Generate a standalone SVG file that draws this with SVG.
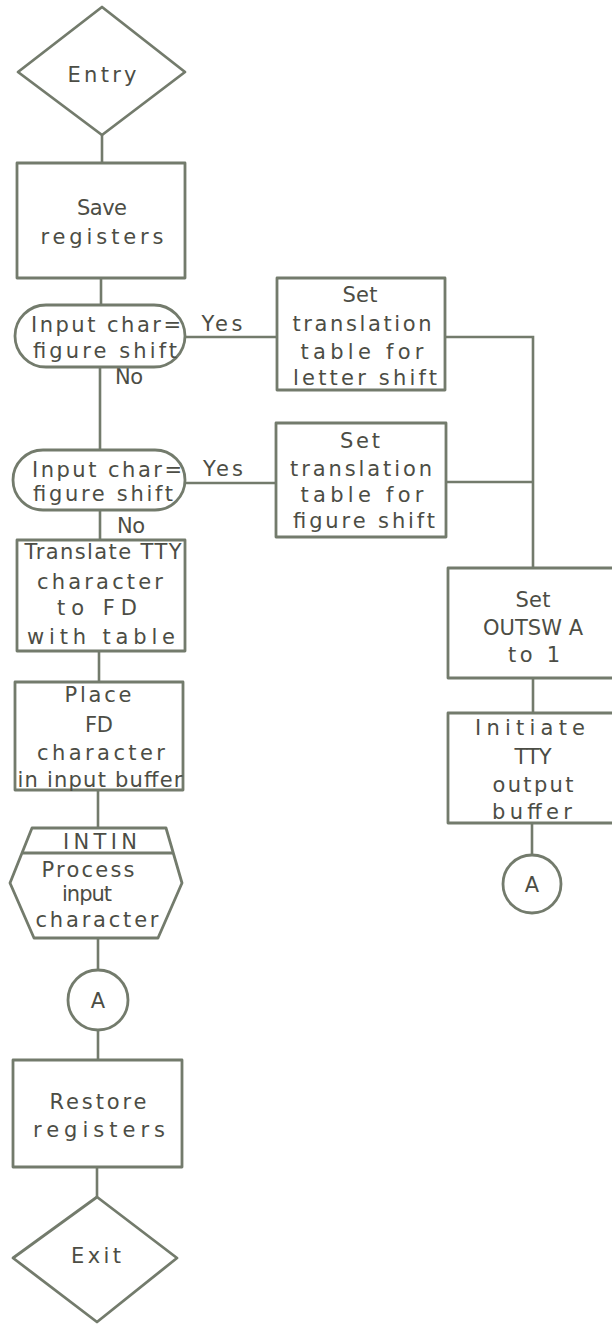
<svg xmlns="http://www.w3.org/2000/svg" width="612" height="1325" viewBox="0 0 612 1325">
  <style>
    .shape { fill: none; stroke: #737b6c; stroke-width: 2.8; stroke-linejoin: round; }
    .wire { fill: none; stroke: #737b6c; stroke-width: 2.6; }
    .lbl { font-family: "DejaVu Sans", "Liberation Sans", sans-serif; font-size: 21px; fill: #4c4d45; text-anchor: middle; }
  </style>
  <rect width="612" height="1325" fill="#ffffff"/>

  <!-- connectors -->
  <g id="connectors">
    <path class="wire" d="M102 135 V163"/>
    <path class="wire" d="M101 278 V305"/>
    <path class="wire" d="M185 337 H277"/>
    <path class="wire" d="M445 337 H533 V568"/>
    <path class="wire" d="M100 367 V450"/>
    <path class="wire" d="M185 483 H276"/>
    <path class="wire" d="M446 482 H533"/>
    <path class="wire" d="M100 510 V540"/>
    <path class="wire" d="M99 651 V682"/>
    <path class="wire" d="M98 790 V828"/>
    <path class="wire" d="M98 938 V970"/>
    <path class="wire" d="M98 1030 V1060"/>
    <path class="wire" d="M97 1167 V1197"/>
    <path class="wire" d="M533 678 V713"/>
    <path class="wire" d="M532 823 V855"/>
    <text class="lbl" x="222" y="331" textLength="41" lengthAdjust="spacing">Yes</text>
    <text class="lbl" x="223" y="476" textLength="40" lengthAdjust="spacing">Yes</text>
    <text class="lbl" x="129" y="384" textLength="28" lengthAdjust="spacing">No</text>
    <text class="lbl" x="131" y="533" textLength="28" lengthAdjust="spacing">No</text>
  </g>

  <!-- entry terminal -->
  <g id="entry">
    <polygon class="shape" points="102,7 185,72 102,135 18,72"/>
    <text class="lbl" x="102" y="82" textLength="69" lengthAdjust="spacing">Entry</text>
  </g>

  <g id="save-registers">
    <rect class="shape" x="17" y="163" width="168" height="115"/>
    <text class="lbl" x="102" y="215" textLength="50" lengthAdjust="spacing">Save</text>
    <text class="lbl" x="102" y="244" textLength="123" lengthAdjust="spacing">registers</text>
  </g>

  <g id="test-letter-shift">
    <rect class="shape" x="15" y="305" width="170" height="62" rx="31" ry="31"/>
    <text class="lbl" x="106" y="332" textLength="150" lengthAdjust="spacing">Input char=</text>
    <text class="lbl" x="105" y="358" textLength="144" lengthAdjust="spacing">figure shift</text>
  </g>

  <g id="set-letter-table">
    <rect class="shape" x="277" y="278" width="168" height="112"/>
    <text class="lbl" x="360" y="302" textLength="35" lengthAdjust="spacing">Set</text>
    <text class="lbl" x="362" y="331" textLength="139" lengthAdjust="spacing">translation</text>
    <text class="lbl" x="362" y="359" textLength="123" lengthAdjust="spacing">table for</text>
    <text class="lbl" x="365" y="385" textLength="144" lengthAdjust="spacing">letter shift</text>
  </g>

  <g id="test-figure-shift">
    <rect class="shape" x="13" y="450" width="172" height="60" rx="30" ry="30"/>
    <text class="lbl" x="107" y="477" textLength="150" lengthAdjust="spacing">Input char=</text>
    <text class="lbl" x="103" y="501" textLength="140" lengthAdjust="spacing">figure shift</text>
  </g>

  <g id="set-figure-table">
    <rect class="shape" x="276" y="423" width="170" height="114"/>
    <text class="lbl" x="360" y="448" textLength="40" lengthAdjust="spacing">Set</text>
    <text class="lbl" x="361" y="476" textLength="142" lengthAdjust="spacing">translation</text>
    <text class="lbl" x="362" y="502" textLength="123" lengthAdjust="spacing">table for</text>
    <text class="lbl" x="364" y="528" textLength="142" lengthAdjust="spacing">figure shift</text>
  </g>

  <g id="translate">
    <rect class="shape" x="17" y="540" width="168" height="111"/>
    <text class="lbl" x="103" y="559" textLength="157" lengthAdjust="spacing">Translate TTY</text>
    <text class="lbl" x="100" y="589" textLength="126" lengthAdjust="spacing">character</text>
    <text class="lbl" x="97" y="615" textLength="80" lengthAdjust="spacing">to FD</text>
    <text class="lbl" x="101" y="644" textLength="148" lengthAdjust="spacing">with table</text>
  </g>

  <g id="place-buffer">
    <rect class="shape" x="15" y="682" width="168" height="108"/>
    <text class="lbl" x="98" y="702" textLength="67" lengthAdjust="spacing">Place</text>
    <text class="lbl" x="99" y="732" textLength="28" lengthAdjust="spacing">FD</text>
    <text class="lbl" x="101" y="760" textLength="128" lengthAdjust="spacing">character</text>
    <text class="lbl" x="100" y="787" textLength="165" lengthAdjust="spacing">in input buffer</text>
  </g>

  <!-- predefined process INTIN -->
  <g id="intin">
    <polygon class="shape" points="32,828 166,828 182,883 158,938 34,938 10,883"/>
    <path class="shape" d="M23 853 H174"/>
    <text class="lbl" x="100" y="849" textLength="74" lengthAdjust="spacing">INTIN</text>
    <text class="lbl" x="88" y="877" textLength="93" lengthAdjust="spacing">Process</text>
    <text class="lbl" x="87" y="901" textLength="50" lengthAdjust="spacing">input</text>
    <text class="lbl" x="97" y="927" textLength="123" lengthAdjust="spacing">character</text>
  </g>

  <g id="connector-a-left">
    <circle class="shape" cx="98" cy="1000" r="30"/>
    <text class="lbl" x="98" y="1008">A</text>
  </g>

  <g id="restore-registers">
    <rect class="shape" x="13" y="1060" width="169" height="107"/>
    <text class="lbl" x="98" y="1109" textLength="97" lengthAdjust="spacing">Restore</text>
    <text class="lbl" x="99" y="1137" textLength="132" lengthAdjust="spacing">registers</text>
  </g>

  <g id="exit">
    <polygon class="shape" points="97,1197 177,1258 97,1322 13,1258"/>
    <text class="lbl" x="96" y="1263" textLength="50" lengthAdjust="spacing">Exit</text>
  </g>

  <g id="set-outsw">
    <rect class="shape" x="448" y="568" width="170" height="110"/>
    <text class="lbl" x="533" y="607" textLength="35" lengthAdjust="spacing">Set</text>
    <text class="lbl" x="533" y="635" textLength="100" lengthAdjust="spacing">OUTSW A</text>
    <text class="lbl" x="534" y="662" textLength="52" lengthAdjust="spacing">to 1</text>
  </g>

  <g id="initiate-output">
    <rect class="shape" x="448" y="713" width="170" height="110"/>
    <text class="lbl" x="530" y="735" textLength="110" lengthAdjust="spacing">Initiate</text>
    <text class="lbl" x="533" y="764" textLength="37" lengthAdjust="spacing">TTY</text>
    <text class="lbl" x="533" y="792" textLength="81" lengthAdjust="spacing">output</text>
    <text class="lbl" x="532" y="819" textLength="80" lengthAdjust="spacing">buffer</text>
  </g>

  <g id="connector-a-right">
    <circle class="shape" cx="532" cy="884" r="29"/>
    <text class="lbl" x="532" y="892">A</text>
  </g>
</svg>
